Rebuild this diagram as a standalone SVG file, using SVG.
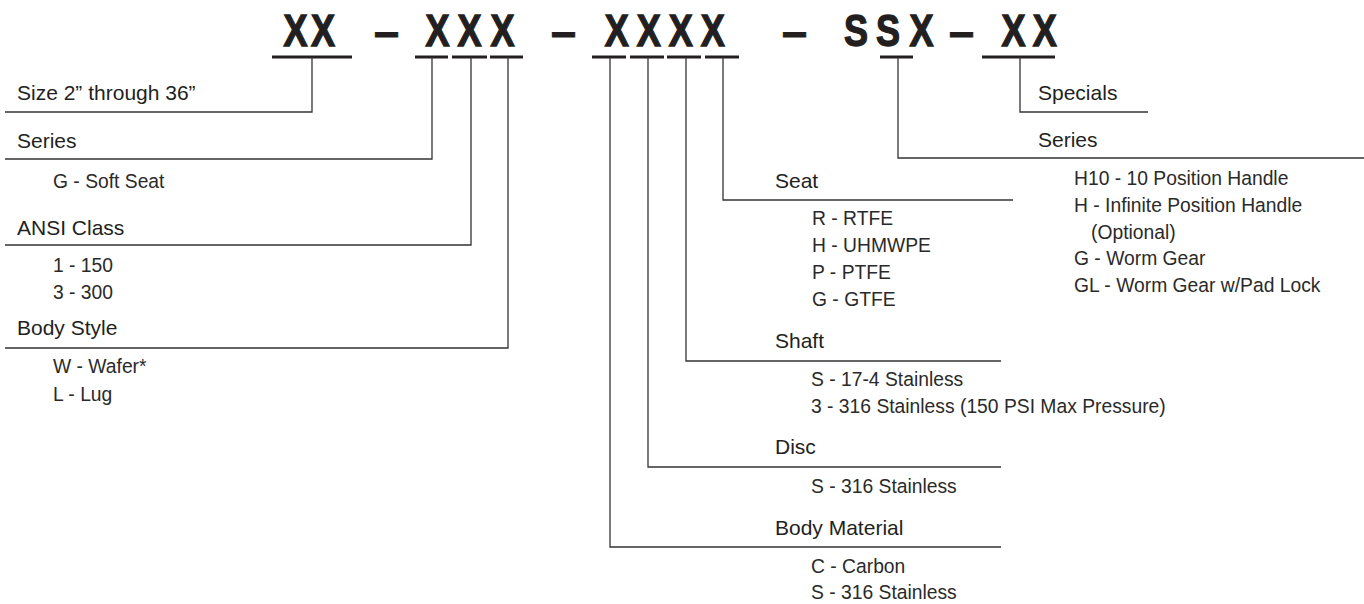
<svg xmlns="http://www.w3.org/2000/svg" width="1364" height="604" viewBox="0 0 1364 604">
<style>
.code{font-family:"Liberation Sans",Arial,sans-serif;font-weight:700;font-size:45px;fill:#231f20;stroke:#231f20;stroke-width:1.4;stroke-linejoin:miter}
.dash{font-family:"Liberation Sans",Arial,sans-serif;font-weight:700;font-size:45px;fill:#231f20;stroke:#231f20;stroke-width:1}
.hd{font-family:"Liberation Sans",Arial,sans-serif;font-size:21px;fill:#231f20}
.it{font-family:"Liberation Sans",Arial,sans-serif;font-size:19.3px;fill:#2a2a2a}
.ul{stroke:#231f20;stroke-width:3;fill:none}
.cn{stroke:#333;stroke-width:1.3;fill:none}
</style>
<rect width="1364" height="604" fill="#ffffff"/>
<g id="code">
  <g transform="scale(0.8,1)">
    <text class="code" x="354.5 388.8" y="46">XX</text>
    <text class="code" x="532 572 613.2" y="46">XXX</text>
    <text class="code" x="755.8 795.8 835.8 875.8" y="46">XXXX</text>
    <text class="code" x="1055 1095 1137" y="46">SSX</text>
    <text class="code" x="1252 1290.8" y="46">XX</text>
  </g>
  <text class="dash" x="374" y="46.5">–</text>
  <text class="dash" x="551" y="46.5">–</text>
  <text class="dash" x="782" y="46.5">–</text>
  <text class="dash" x="949" y="46.5">–</text>
  <path class="ul" d="M272 57H352M415 57H448M452 57H487M490 57H523M592 57H626M630 57H664M667 57H701M705 57H739M880 57H913M982 57H1055"/>
</g>
<g id="connectors">
  <path class="cn" d="M312 57V112H5"/>
  <path class="cn" d="M432 57V159H5"/>
  <path class="cn" d="M471 57V245H5"/>
  <path class="cn" d="M508 57V348H5"/>
  <path class="cn" d="M610 57V547H1001"/>
  <path class="cn" d="M648 57V467H1001"/>
  <path class="cn" d="M686 57V361H1001"/>
  <path class="cn" d="M723 57V200H1013"/>
  <path class="cn" d="M898 57V158H1364"/>
  <path class="cn" d="M1020 57V112H1148"/>
</g>
<g id="size">
  <text class="hd" x="17" y="100">Size 2” through 36”</text>
</g>
<g id="series">
  <text class="hd" x="17" y="148">Series</text>
  <text class="it" x="53" y="188">G - Soft Seat</text>
</g>
<g id="ansi-class">
  <text class="hd" x="17" y="235">ANSI Class</text>
  <text class="it" x="53" y="272">1 - 150</text>
  <text class="it" x="53" y="299">3 - 300</text>
</g>
<g id="body-style">
  <text class="hd" x="17" y="335">Body Style</text>
  <text class="it" x="53" y="373">W - Wafer*</text>
  <text class="it" x="53" y="401">L - Lug</text>
</g>
<g id="seat">
  <text class="hd" x="775" y="188">Seat</text>
  <text class="it" x="812" y="225">R - RTFE</text>
  <text class="it" x="812" y="252">H - UHMWPE</text>
  <text class="it" x="812" y="279">P - PTFE</text>
  <text class="it" x="812" y="306">G - GTFE</text>
</g>
<g id="shaft">
  <text class="hd" x="775" y="348">Shaft</text>
  <text class="it" x="811" y="386">S - 17-4 Stainless</text>
  <text class="it" x="811" y="413">3 - 316 Stainless (150 PSI Max Pressure)</text>
</g>
<g id="disc">
  <text class="hd" x="775" y="454">Disc</text>
  <text class="it" x="811" y="493">S - 316 Stainless</text>
</g>
<g id="body-material">
  <text class="hd" x="775" y="535">Body Material</text>
  <text class="it" x="811" y="573">C - Carbon</text>
  <text class="it" x="811" y="599">S - 316 Stainless</text>
</g>
<g id="specials">
  <text class="hd" x="1038" y="100">Specials</text>
</g>
<g id="operator-series">
  <text class="hd" x="1038" y="147">Series</text>
  <text class="it" x="1074" y="185">H10 - 10 Position Handle</text>
  <text class="it" x="1074" y="212">H - Infinite Position Handle</text>
  <text class="it" x="1091" y="238.5">(Optional)</text>
  <text class="it" x="1074" y="265">G - Worm Gear</text>
  <text class="it" x="1074" y="292">GL - Worm Gear w/Pad Lock</text>
</g>
</svg>
